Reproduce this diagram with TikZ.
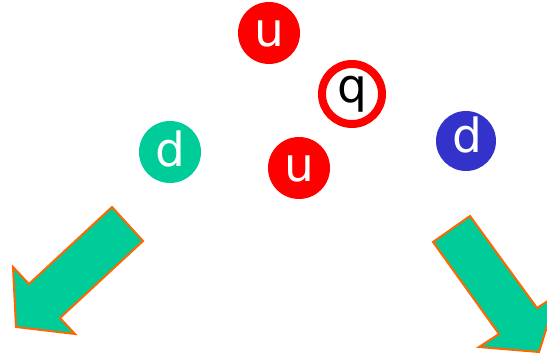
\documentclass[tikz,border=0pt]{standalone}
\usepackage{fontspec}
\setmainfont{DejaVu Sans}
\definecolor{qred}{HTML}{FF0000}
\definecolor{qgreen}{HTML}{00CC99}
\definecolor{qblue}{HTML}{3333CC}
\definecolor{qorange}{HTML}{FF6600}
\begin{document}
\begin{tikzpicture}[x=1pt,y=-1pt,
  quark/.style={circle, minimum size=62pt, inner sep=0pt},
  letter/.style={anchor=base, inner sep=0pt, font=\fontsize{47}{47}\selectfont},
  bigarrow/.style={fill=qgreen, draw=qorange, line width=2pt, line join=miter}]
\useasboundingbox (0,0) rectangle (547,355);
% quarks
\node[quark, fill=qred] (u1) at (269,33) {};
\node[letter, text=white] (u1t) at (269,47) {u};
\node[quark, fill=qred] (u2) at (299,168) {};
\node[letter, text=white] (u2t) at (299,182) {u};
\node[quark, fill=qgreen] (d1) at (170,152) {};
\node[letter, text=white] (d1t) at (170,167) {d};
\node[quark, fill=qblue, minimum size=60pt] (d2) at (466,141) {};
\node[letter, text=white] (d2t) at (467,153) {d};
\node[circle, minimum size=60pt, inner sep=0pt, fill=white, draw=qred, line width=8pt] (q) at (352,94) {};
\node[letter, text=black] (qt) at (352,103) {q};
% arrows
\begin{scope}
\clip (0,0) rectangle (547,355);
\draw[bigarrow] (112,207) -- (143,241) -- (60,318) -- (75,334) -- (16,327) -- (13,267) -- (29,284) -- cycle;
\draw[bigarrow] (470,216) -- (433,242) -- (499,334) -- (479,347) -- (539,352) -- (557,295) -- (537,308) -- cycle;
\end{scope}
\end{tikzpicture}
\end{document}
